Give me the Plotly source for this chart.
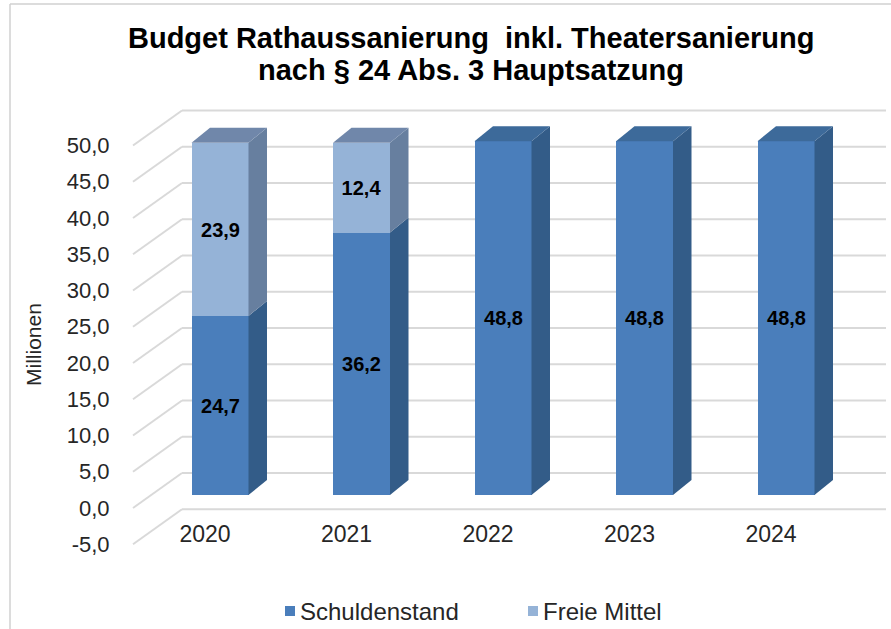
import plotly.graph_objects as go

# Data (Mio. EUR)
years = ["2020", "2021", "2022", "2023", "2024"]
schuldenstand = [24.7, 36.2, 48.8, 48.8, 48.8]
freie_mittel = [23.9, 12.4, 0.0, 0.0, 0.0]
y_ticks = [-5, 0, 5, 10, 15, 20, 25, 30, 35, 40, 45, 50]
series_names = ["Schuldenstand", "Freie Mittel"]

# Figure geometry (pixels)
W, H = 891, 629
PL, PR, PT, PB = 122, 886, 95, 560
X0_PX, X_STEP = 220.0, 141.5      # category 0 centre, spacing
Y0_PX, Y_STEP = 495.0, 7.25       # value 0 on bar front plane, px per unit

x_range = [(PL - X0_PX) / X_STEP, (PR - X0_PX) / X_STEP]
y_range = [(Y0_PX - PB) / Y_STEP, (Y0_PX - PT) / Y_STEP]

# pseudo-3D depth parameters (axis units)
BAR_W = 57 / X_STEP
DEPTH_DX = 18.5 / X_STEP
DEPTH_DY = 15 / Y_STEP
WALL_FRONT_X, WALL_FRONT_DY = (133 - X0_PX) / X_STEP, (Y0_PX - 508) / Y_STEP
WALL_BACK_X, WALL_BACK_DY = (182 - X0_PX) / X_STEP, (Y0_PX - 473) / Y_STEP
WALL_RIGHT_X = (886 - X0_PX) / X_STEP
LABEL_SHIFT = -15 / X_STEP

COL = {
    "S": {"front": "#4a7ebb", "side": "#335c88", "top": "#3d6a9a"},
    "F": {"front": "#95b3d7", "side": "#677f9f", "top": "#7087aa"},
}
GRID = "#d9d9d9"
TXT = "#262626"
FONT = "Liberation Sans, Arial, sans-serif"

def fmt(v):
    return f"{v:.1f}".replace(".", ",")

def px_x(p):
    return (p - PL) / (PR - PL)

def px_y(p):
    return (PB - p) / (PB - PT)

fig = go.Figure()

# front faces
xs = list(range(len(years)))
label_font = dict(family=FONT, size=20, color="black", weight="bold")
fig.add_trace(go.Bar(
    x=xs, y=schuldenstand, name=series_names[0], width=BAR_W,
    marker=dict(color=COL["S"]["front"], line=dict(width=0)),
    text=[fmt(v) for v in schuldenstand], textposition="inside",
    insidetextanchor="middle", textangle=0, textfont=label_font,
    hoverinfo="skip", showlegend=False,
))
fig.add_trace(go.Bar(
    x=xs, y=freie_mittel, name=series_names[1], width=BAR_W,
    marker=dict(color=COL["F"]["front"], line=dict(width=0)),
    text=[fmt(v) if v > 0 else "" for v in freie_mittel], textposition="inside",
    insidetextanchor="middle", textangle=0, textfont=label_font,
    hoverinfo="skip", showlegend=False,
))

def poly(px, py, color):
    fig.add_trace(go.Scatter(
        x=px + [px[0]], y=py + [py[0]], mode="lines", fill="toself",
        fillcolor=color, line=dict(width=0, color=color),
        showlegend=False, hoverinfo="skip",
    ))

# side and top faces of each stacked column
for i in xs:
    segs = [(0.0, schuldenstand[i], "S"),
            (schuldenstand[i], schuldenstand[i] + freie_mittel[i], "F")]
    segs = [s for s in segs if s[1] > s[0]]
    xl, xr = i - BAR_W / 2, i + BAR_W / 2
    for b, t, key in segs:
        poly([xr, xr + DEPTH_DX, xr + DEPTH_DX, xr],
             [b, b + DEPTH_DY, t + DEPTH_DY, t], COL[key]["side"])
    b, t, key = segs[-1]
    poly([xl, xl + DEPTH_DX, xr + DEPTH_DX, xr],
         [t, t + DEPTH_DY, t + DEPTH_DY, t], COL[key]["top"])

# side wall and back wall gridlines
shapes = []
for v in y_ticks:
    shapes.append(dict(type="line", xref="x", yref="y", layer="below",
                       x0=WALL_FRONT_X, y0=v + WALL_FRONT_DY,
                       x1=WALL_BACK_X, y1=v + WALL_BACK_DY,
                       line=dict(color=GRID, width=2)))
    shapes.append(dict(type="line", xref="x", yref="y", layer="below",
                       x0=WALL_BACK_X, y0=v + WALL_BACK_DY,
                       x1=WALL_RIGHT_X, y1=v + WALL_BACK_DY,
                       line=dict(color=GRID, width=2)))

# outer chart frame
shapes.append(dict(type="line", xref="paper", yref="paper",
                   x0=px_x(10), x1=px_x(10), y0=px_y(4), y1=px_y(H + 5),
                   line=dict(color="#d0d0d0", width=1.5)))
shapes.append(dict(type="line", xref="paper", yref="paper",
                   x0=px_x(10), x1=px_x(W + 5), y0=px_y(4), y1=px_y(4),
                   line=dict(color="#d0d0d0", width=1.5)))

annotations = [
    dict(text="<b>Budget Rathaussanierung  inkl. Theatersanierung</b>",
         xref="paper", yref="paper", x=px_x(471), y=px_y(38),
         xanchor="center", yanchor="middle", showarrow=False,
         font=dict(family=FONT, size=29, color="black")),
    dict(text="<b>nach § 24 Abs. 3 Hauptsatzung</b>",
         xref="paper", yref="paper", x=px_x(471), y=px_y(70),
         xanchor="center", yanchor="middle", showarrow=False,
         font=dict(family=FONT, size=29, color="black")),
    dict(text="Millionen", xref="paper", yref="paper", x=px_x(33), y=px_y(345),
         xanchor="center", yanchor="middle",
         textangle=-90, showarrow=False, font=dict(family=FONT, size=21, color=TXT)),
]

# legend: swatch + label per series
legend_items = [(series_names[0], COL["S"]["front"], 285),
                (series_names[1], COL["F"]["front"], 528)]
for name, color, lx in legend_items:
    shapes.append(dict(type="rect", xref="paper", yref="paper",
                       x0=px_x(lx), x1=px_x(lx + 10), y0=px_y(616), y1=px_y(606),
                       fillcolor=color, line=dict(width=0)))
    annotations.append(dict(text=name, xref="paper", yref="paper",
                            x=px_x(lx + 13), y=px_y(611), xanchor="left", yanchor="middle",
                            showarrow=False, font=dict(family=FONT, size=24, color=TXT)))

fig.update_layout(
    width=W, height=H,
    margin=dict(l=PL, r=W - PR, t=PT, b=H - PB, pad=0),
    paper_bgcolor="white", plot_bgcolor="white",
    barmode="stack", bargap=0,
    separators=",.",
    showlegend=False,
    xaxis=dict(range=x_range, showgrid=False, zeroline=False, showline=False,
               tickmode="array", tickvals=[i + LABEL_SHIFT for i in xs], ticktext=years,
               ticks="", anchor="free", position=px_y(518),
               tickfont=dict(family=FONT, size=23, color=TXT)),
    yaxis=dict(range=y_range, showgrid=False, zeroline=False, showline=False,
               showticklabels=False, ticks=""),
    yaxis2=dict(range=[y_range[0] - WALL_FRONT_DY, y_range[1] - WALL_FRONT_DY],
                overlaying="y", side="left", showgrid=False, zeroline=False, showline=False,
                tickmode="array", tickvals=y_ticks, ticktext=[fmt(v) for v in y_ticks],
                ticks="outside", ticklen=7, tickcolor="rgba(0,0,0,0)",
                tickfont=dict(family=FONT, size=22, color=TXT)),
    shapes=shapes, annotations=annotations,
    uniformtext=dict(mode="show", minsize=20),
)

# invisible trace to activate the label axis
fig.add_trace(go.Scatter(x=[None], y=[None], yaxis="y2", showlegend=False, hoverinfo="skip"))

fig.write_html("out.html")
